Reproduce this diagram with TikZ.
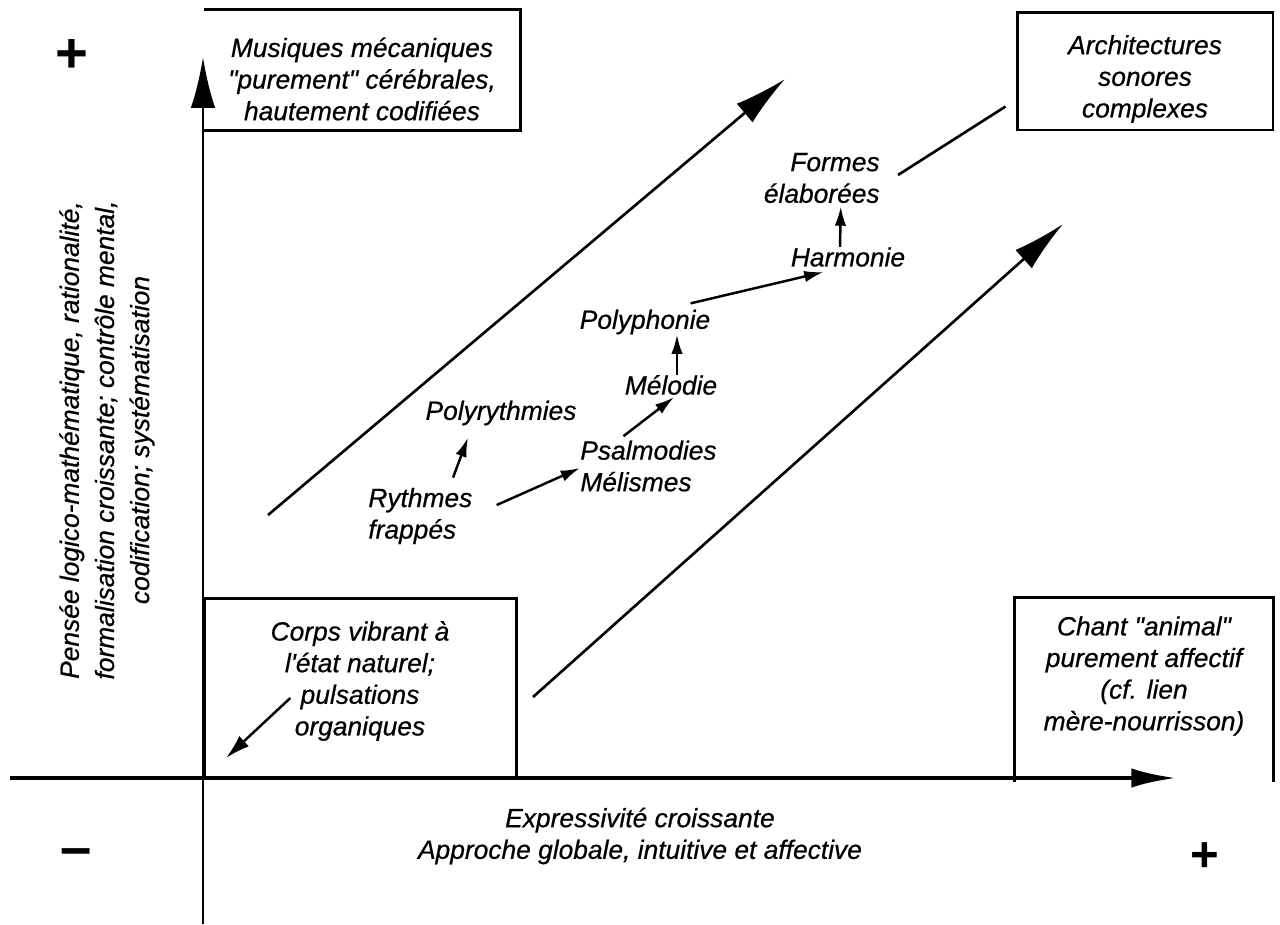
\documentclass[tikz,border=0pt]{standalone}
\usepackage{fontspec}
\setmainfont{Liberation Sans}[Ligatures=TeXOff, ItalicFeatures={FakeBold=0.6}]
\usetikzlibrary{arrows.meta, calc}

\tikzset{
  lab/.style={font=\itshape\fontsize{15}{18}\selectfont, align=center, inner sep=0pt},
  vlab/.style={lab, font=\itshape\fontsize{15}{20}\selectfont, rotate=90},
  sign/.style={font=\bfseries\fontsize{32}{32}\selectfont, inner sep=0pt},
  frame/.style={line width=1.7pt},
  big/.style={-{Latex[length=30pt,width=14pt]}, line width=1.5pt},
  small/.style={-{Latex[length=11pt,width=6.5pt]}, line width=1.4pt},
}

\begin{document}
\begin{tikzpicture}[x=0.02cm, y=-0.02cm]
\useasboundingbox (0,0) rectangle (1280,924);

% the four corner boxes
\node[minimum width=6.32cm, minimum height=2.4cm] (mecabox) at (362,70) {};
\draw[frame] (mecabox.south west) -- (mecabox.south east) -- (mecabox.north east) -- (mecabox.north west);
\node[lab] (meca) at (362,79) {Musiques mécaniques\\"purement" cérébrales,\\hautement codifiées};

\node[draw, frame, minimum width=5.12cm, minimum height=2.36cm] (archbox) at (1145,71) {};
\node[lab] (arch) at (1145,79) {Architectures\\sonores\\complexes};

\node[draw, frame, minimum width=6.26cm, minimum height=3.6cm] (corpsbox) at (360.5,688) {};
\node[lab] (corps) at (360,681) {Corps vibrant à\\l'état naturel;\\pulsations\\organiques};

\node[minimum width=5.16cm, minimum height=3.68cm] (chantbox) at (1144,690) {};
\draw[frame] (chantbox.south west) -- (chantbox.north west) -- (chantbox.north east) -- (chantbox.south east);
\node[lab] (chant) at (1144,676) {Chant "animal"\\purement affectif\\(cf. lien\\mère-nourrisson)};

% axes
\coordinate (o) at (203,778);
\coordinate (xl) at (10,778);
\coordinate (xr) at (1177,778);
\coordinate (yb) at (203,924);
\coordinate (yt) at (203,57);
\draw[line width=2.8pt, -{Latex[length=26pt,width=11pt]}] (xl) -- (xr);
\draw[line width=1.6pt, -{Latex[length=29pt,width=14pt]}] (yb) -- (yt);

\node[sign] (yplus) at (72,56) {+};
\node[sign] (ymin) at (76,858) {–};
\node[sign, font=\bfseries\fontsize{28}{28}\selectfont] (xplus) at (1205,857) {+};

\node[vlab] (ylab) at (107,440) {Pensée logico-mathématique, rationalité,\\formalisation croissante; contrôle mental,\\codification; systématisation};
\node[lab] (xlab) at (640,836) {Expressivité croissante\\Approche globale, intuitive et affective};

% the band
\coordinate (a1) at (268,515);
\coordinate (a2) at (785,79);
\coordinate (b1) at (533,697);
\coordinate (b2) at (1063,224);
\draw[big] (a1) -- (a2);
\draw[big] (b1) -- (b2);

% steps
\node[lab, anchor=west, align=left] (ryth) at (368,516) {Rythmes\\frappés};
\node[lab] (polyr) at (501,413) {Polyrythmies};
\node[lab, anchor=west, align=left] (psal) at (580,466) {Psalmodies\\Mélismes};
\node[lab] (melo) at (671,385) {Mélodie};
\node[lab] (polyph) at (645,322) {Polyphonie};
\node[lab] (harm) at (848,257) {Harmonie};
\node[lab, anchor=east, align=right] (formes) at (880,178) {Formes\\élaborées};

\draw[small] ($(ryth.north west)+(85,-10)$) -- ($(polyr.south)+(-33,12)$);
\draw[small] ($(ryth.east)+(24,-11)$) -- ($(psal.west)+(0,2)$);
\draw[small] ($(psal.north)+(-25,-4)$) -- ($(melo.south)+(3,2)$);
\draw[small] ($(melo.north)+(6,0)$) -- ($(polyph.south)+(32,0)$);
\draw[small] ($(polyph.north east)+(-20,-6)$) -- ($(harm.south west)+(33,5)$);
\draw[small] ($(harm.north)+(-8,0)$) -- ($(formes.south)+(19,3)$);
\draw[line width=1.5pt] ($(formes.east)+(18,-3)$) -- ($(archbox.south west)+(-10,-25)$);
\draw[small, -{Latex[length=14pt,width=8pt]}] ($(corps.west)+(20,17)$) -- ($(o)+(23,-20)$);
\end{tikzpicture}
\end{document}
